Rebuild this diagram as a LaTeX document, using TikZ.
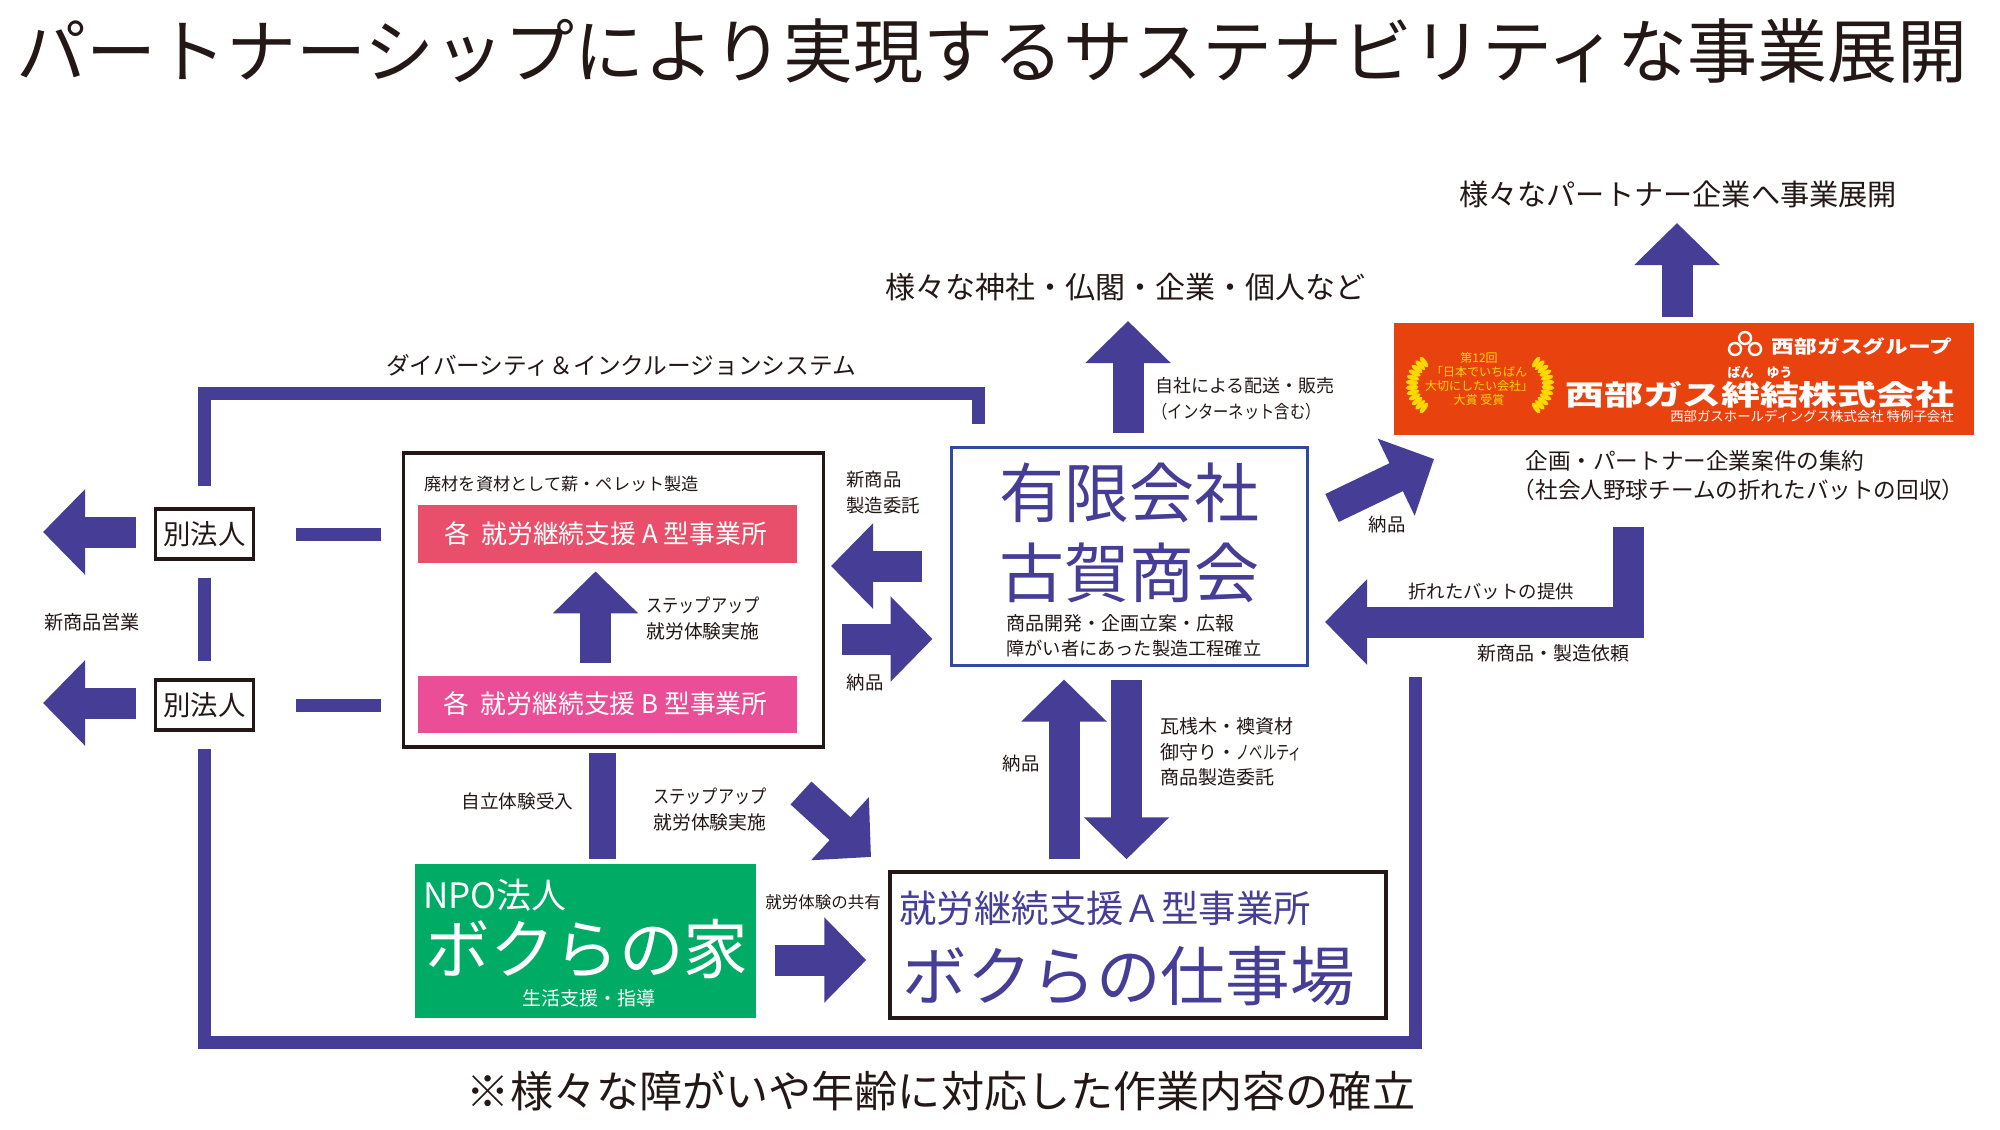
\documentclass[tikz,border=0pt]{standalone}
\usepackage{fontspec}
\usepackage{graphicx}
\setmainfont{Noto Sans CJK JP}
\usetikzlibrary{arrows.meta}
\definecolor{barblue}{HTML}{463E96}
\definecolor{inkblack}{HTML}{231815}
\definecolor{kogablue}{HTML}{2F4BA0}
\definecolor{gasorange}{HTML}{E8430F}
\definecolor{typeared}{HTML}{E94F6A}
\definecolor{typebpink}{HTML}{E94E97}
\definecolor{npogreen}{HTML}{00AB66}
\definecolor{wreathgold}{HTML}{FFD800}
\tikzset{
    jptext/.style 2 args={font=\fontsize{#1}{#2}\selectfont,inner sep=0pt,text=inkblack},
    blackbox/.style={draw=inkblack,line width=1.75pt,fill=white,inner sep=0pt},
    fatarrow/.style={draw=barblue,line width=15.5pt,-{Triangle[length=21pt,width=41.5pt]}},
    barline/.style={draw=barblue,line width=6.5pt},
}

\begin{document}
\begin{tikzpicture}[x=0.5pt,y=-0.5pt]
    \useasboundingbox (0,0) rectangle (2000,1129);

    \node[jptext={35}{40}] (title) at (992,51) {パートナーシップにより実現するサステナビリティな事業展開};
    \node[jptext={14.6}{18}] (partners) at (1678,194) {様々なパートナー企業へ事業展開};
    \node[jptext={15}{18}] (shrines) at (1125,287) {様々な神社・仏閣・企業・個人など};
    \node[jptext={11.85}{14}] (diversity) at (621,365) {ダイバーシティ＆インクルージョンシステム};
    \node[jptext={21.55}{26}] (footnote) at (941,1091) {※様々な障がいや年齢に対応した作業内容の確立};

    \node[fill=gasorange,minimum width=290pt,minimum height=56pt,inner sep=0pt] (gas) at (1684,379) {};
    \node[jptext={9}{11},text=white,font=\fontsize{9}{11}\selectfont\bfseries] (gasgroup) at (1862,346) {\scalebox{1.26}[1]{西部ガスグループ}};
    \node[jptext={6.5}{7},text=white,font=\fontsize{6.5}{7}\selectfont\bfseries] (gasruby) at (1760,372) {ばん\hspace{1em}ゆう};
    \node[jptext={14}{16},text=white,font=\fontsize{14}{16}\selectfont\bfseries] (gasname) at (1760,395) {\scalebox{1.39}[1]{西部ガス絆結株式会社}};
    \node[jptext={6.7}{8},text=white] (gassub) at (1812,416) {西部ガスホールディングス株式会社 特例子会社};
    \node[jptext={6}{8},text=wreathgold] (award) at (1479,380) {\begin{tabular}{@{}c@{}}第12回\\[-1pt]「日本でいちばん\\[-1pt]大切にしたい会社」\\[-1pt]大賞 受賞\end{tabular}};
    \foreach \a in {125,135,...,235} {
        \fill[wreathgold,shift={(1440,385)},rotate=\a] (28,0) ellipse (6.5 and 2.5);
    }
    \foreach \a in {-55,-45,...,55} {
        \fill[wreathgold,shift={(1520,385)},rotate=\a] (28,0) ellipse (6.5 and 2.5);
    }
    \foreach \x/\y in {1735/349,1755/349,1745/338} {
        \draw[white,line width=1.2pt] (\x,\y) circle (6);
    }
    \node[jptext={11.3}{14.5},anchor=west,align=left] (gasnote) at (1525,476) {企画・パートナー企業案件の集約\\\hspace*{-0.55em}（社会人野球チームの折れたバットの回収）};

    \node[draw=kogablue,line width=1.5pt,fill=white,minimum width=178pt,minimum height=109pt,inner sep=0pt] (koga) at (1129,556) {};
    \node[jptext={32.5}{36},text=barblue] (kogaa) at (1129,493) {有限会社};
    \node[jptext={32.5}{36},text=barblue] (kogab) at (1129,573) {古賀商会};
    \node[jptext={9.5}{12.5},anchor=west,align=left] (kogac) at (1006,635.5) {商品開発・企画立案・広報\\{\fontsize{9.1}{12.5}\selectfont 障がい者にあった製造工程確立}};

    \node[blackbox,minimum width=210pt,minimum height=147pt] (bigbox) at (613.5,600) {};
    \node[jptext={8.6}{10},anchor=west] (bigboxtitle) at (424,484) {廃材を資材として薪・ペレット製造};
    \node[fill=typeared,minimum width=189.5pt,minimum height=29pt,inner sep=0pt] (typea) at (607.5,534) {};
    \node[jptext={12.9}{15},text=white] (typeatext) at (605.5,534) {各\hspace{0.45em}就労継続支援 A 型事業所};
    \node[fill=typebpink,minimum width=189.5pt,minimum height=28.5pt,inner sep=0pt] (typeb) at (607.5,704.5) {};
    \node[jptext={12.9}{15},text=white] (typebtext) at (605.5,704) {各\hspace{0.45em}就労継続支援 B 型事業所};

    \node[blackbox,minimum width=49pt,minimum height=25pt] (corpa) at (204.5,534) {};
    \node[jptext={13.7}{15}] (corpatext) at (204.5,534) {別法人};
    \node[blackbox,minimum width=49pt,minimum height=25pt] (corpb) at (204.5,705) {};
    \node[jptext={13.7}{15}] (corpbtext) at (204.5,705) {別法人};

    \node[fill=npogreen,minimum width=170.5pt,minimum height=77pt,inner sep=0pt] (npo) at (585.5,941) {};
    \node[jptext={17.5}{20},text=white,anchor=west] (npoa) at (423,895) {NPO法人};
    \node[jptext={32.3}{36},text=white] (npob) at (587,949) {ボクらの家};
    \node[jptext={9.5}{11},text=white] (npoc) at (589,998) {生活支援・指導};

    \node[blackbox,minimum width=248pt,minimum height=73pt] (shop) at (1138,945) {};
    \node[jptext={18.7}{22},text=barblue,anchor=west] (shopa) at (899,908) {就労継続支援Ａ型事業所};
    \node[jptext={32.3}{36},text=barblue,anchor=west] (shopb) at (902,976) {ボクらの仕事場};

    \node[jptext={9}{11}] (shipping) at (1245,386) {自社による配送・販売};
    \node[jptext={9}{11},anchor=west] (shippingb) at (1152,412) {\scalebox{0.85}[1]{（インターネット含む）}};
    \node[jptext={9.2}{13},anchor=west,align=left] (orderlabel) at (846,493) {新商品\\製造委託};
    \node[jptext={9.2}{11}] (delivlabel) at (865,683) {納品};
    \node[jptext={9.2}{11}] (gasdelivlabel) at (1387,525) {納品};
    \node[jptext={9.2}{11}] (batlabel) at (1491,591) {折れたバットの提供};
    \node[jptext={9.5}{11}] (requestlabel) at (1553,653) {新商品・製造依頼};
    \node[jptext={9.5}{12.7},anchor=west,align=left] (materiallabel) at (1160,752) {瓦桟木・襖資材\\御守り・\scalebox{0.7}[1]{ノベルティ}\\商品製造委託};
    \node[jptext={9.2}{11}] (shopdelivlabel) at (1021,764) {納品};
    \node[jptext={9.6}{11}] (saleslabel) at (92,622) {新商品営業};
    \node[jptext={9.3}{11}] (selflabel) at (517.5,801) {自立体験受入};
    \node[jptext={8.25}{10}] (sharelabel) at (823,902) {就労体験の共有};
    \node[jptext={9.4}{13.3},anchor=west,align=left] (stepin) at (646,618.5) {\scalebox{0.86}[1]{ステップアップ}\\就労体験実施};
    \node[jptext={9.4}{13},anchor=west,align=left] (stepout) at (653,809) {\scalebox{0.86}[1]{ステップアップ}\\就労体験実施};

    \coordinate (partnertip) at (1677,223);
    \coordinate (shrinetip) at (1128,321);
    \coordinate (gastail) at (1332,508);
    \coordinate (gastip) at (1434,459);
    \coordinate (bendtop) at (1628,527);
    \coordinate (bendtip) at (1325,622);
    \coordinate (ordertip) at (831,566);
    \coordinate (delivtail) at (842,639);
    \coordinate (shopup) at (1064,770);
    \coordinate (shopdown) at (1126.5,770);
    \coordinate (stepx) at (595.5,620);
    \coordinate (saleatip) at (43,532);
    \coordinate (salebtip) at (43,703);
    \coordinate (sharetail) at (801,793);
    \coordinate (sharetip) at (871,857);
    \coordinate (npoarrow) at (775,960);
    \coordinate (selfx) at (602.5,800);
    \coordinate (frametop) at (978.5,393.5);
    \coordinate (framebottom) at (1415,1042);
    \coordinate (frameend) at (1415,677);

    \draw[fatarrow,shorten <=3pt] (partnertip |- gas.north) -- (partnertip);
    \draw[fatarrow,shorten <=6.5pt] (shrinetip |- koga.north) -- (shrinetip);
    \draw[fatarrow] (gastail) -- (gastip);
    \draw[fatarrow] (bendtop) |- (bendtip);
    \draw[fatarrow,shorten <=14pt] (koga.west |- ordertip) -- (ordertip);
    \draw[fatarrow,shorten >=8.5pt] (delivtail) -- (koga.west |- delivtail);
    \draw[fatarrow,shorten <=5.5pt,shorten >=6.5pt] (shopup |- shop.north) -- (shopup |- koga.south);
    \draw[fatarrow,shorten <=6.5pt,shorten >=5.5pt] (shopdown |- koga.south) -- (shopdown |- shop.north);
    \draw[fatarrow,shorten <=6.5pt,shorten >=4pt] (stepx |- typeb.north) -- (stepx |- typea.south);
    \draw[fatarrow,shorten <=9pt] (corpa.west |- saleatip) -- (saleatip);
    \draw[fatarrow,shorten <=9pt] (corpb.west |- salebtip) -- (salebtip);
    \draw[fatarrow] (sharetail) -- (sharetip);
    \draw[fatarrow,shorten >=11pt] (npoarrow) -- (shop.west |- npoarrow);

    \draw[barline,shorten <=10.5pt,shorten >=11pt] (corpa.north) |- (frametop) -- (frametop |- koga.north);
    \draw[barline,shorten <=8.5pt,shorten >=8.5pt] (corpa.south) -- (corpb.north);
    \draw[barline,shorten <=8.5pt] (corpb.south) |- (framebottom) -- (frameend);
    \draw[barline,shorten <=20.25pt,shorten >=10.5pt] (corpa.east) -- (bigbox.west |- corpa.east);
    \draw[barline,shorten <=20.25pt,shorten >=10.5pt] (corpb.east) -- (bigbox.west |- corpb.east);
    \draw[barline,line width=13.5pt,shorten <=2pt,shorten >=2.5pt] (selfx |- bigbox.south) -- (selfx |- npo.north);
\end{tikzpicture}
\end{document}
